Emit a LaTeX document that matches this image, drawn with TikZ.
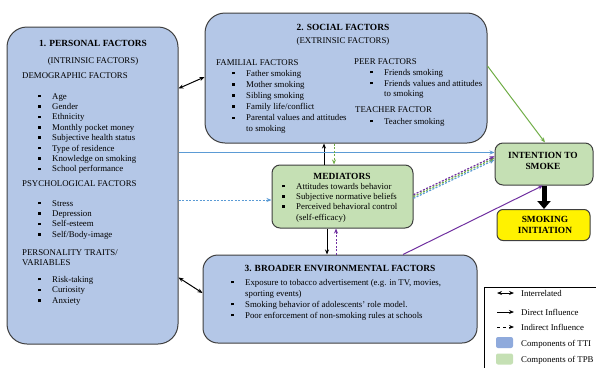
\documentclass[tikz,border=0pt]{standalone}
\usepackage{fontspec}
\setmainfont{Liberation Serif}
\usetikzlibrary{arrows.meta}

\definecolor{ttiblue}{HTML}{B4C7E7}
\definecolor{tpbgreen}{HTML}{C5E0B4}
\definecolor{swatchblue}{HTML}{8FAADC}
\definecolor{boxline}{HTML}{3F3F3F}
\definecolor{lineblue}{HTML}{5B9BD5}
\definecolor{linegreen}{HTML}{70AD47}
\definecolor{linepurple}{HTML}{7030A0}

% small square bullet used in all lists
\newcommand{\sqbullet}{\makebox[14pt][l]{\rule[1.6pt]{2.6pt}{2.6pt}}}

\begin{document}
\begin{tikzpicture}[x=1pt, y=-1pt,
    font=\fontsize{8.8}{10.5}\selectfont,
    >={Stealth[length=5pt,width=4pt]},
    factorbox/.style={draw=boxline, line width=1pt, fill=ttiblue, inner sep=0},
    tpbbox/.style={draw=boxline, line width=1pt, fill=tpbgreen, inner sep=0},
    txt/.style={anchor=base west, inner sep=0},
    ctxt/.style={anchor=base, inner sep=0},
    ttl/.style={anchor=base, inner sep=0, font=\fontsize{9.4}{11}\selectfont\bfseries},
    inter/.style={<->, black, line width=1pt},
    direct/.style={->, line width=1pt},
    indirect/.style={->, line width=1pt, dash pattern=on 2pt off 1.5pt}]

    \useasboundingbox (0,0) rectangle (596,367);

    % Boxes of the model
    \node[factorbox, rounded corners=20pt, minimum width=171pt, minimum height=317pt] (personal) at (92.5,185.5) {};
    \node[factorbox, rounded corners=20pt, minimum width=282pt, minimum height=130pt] (social) at (346,78) {};
    \node[factorbox, rounded corners=15pt, minimum width=274pt, minimum height=88pt] (broad) at (340,299) {};
    \node[tpbbox, rounded corners=8pt, minimum width=141pt, minimum height=63pt] (med) at (342.5,196.5) {};
    \node[tpbbox, rounded corners=8pt, minimum width=98pt, minimum height=42pt] (intent) at (544,164) {};
    \node[draw=boxline, line width=1pt, fill=yellow, rounded corners=6pt, inner sep=0,
          minimum width=93pt, minimum height=31pt] (smoke) at (543.5,225) {};

    % 1. Personal factors
    \node[ttl] (pertitle) at (93,46) {1. PERSONAL FACTORS};
    \node[ctxt] (persub) at (93,63) {(INTRINSIC FACTORS)};
    \node[txt] (demhead) at (22,78) {DEMOGRAPHIC FACTORS};
    \foreach \t [count=\i from 0] in {Age, Gender, Ethnicity, Monthly pocket money, Subjective health status,
        Type of residence, Knowledge on smoking, School performance}
        \node[txt] (dem\i) at (38, 99+10.4*\i) {\sqbullet\t};
    \node[txt] (psyhead) at (22,186) {PSYCHOLOGICAL FACTORS};
    \foreach \t [count=\i from 0] in {Stress, Depression, Self-esteem, Self/Body-image}
        \node[txt] (psy\i) at (38, 206+10.4*\i) {\sqbullet\t};
    \node[txt] (trhead) at (22,255) {PERSONALITY TRAITS/};
    \node[txt] (trhead2) at (22,265.5) {VARIABLES};
    \foreach \t [count=\i from 0] in {Risk-taking, Curiosity, Anxiety}
        \node[txt] (tr\i) at (38, 282+10.8*\i) {\sqbullet\t};

    % 2. Social factors
    \node[ttl] (soctitle) at (343,30) {2. SOCIAL FACTORS};
    \node[ctxt] (socsub) at (343,43) {(EXTRINSIC FACTORS)};
    \node[txt] (famhead) at (216,65) {FAMILIAL FACTORS};
    \foreach \t [count=\i from 0] in {Father smoking, Mother smoking, Sibling smoking, Family life/conflict,
        Parental values and attitudes}
        \node[txt] (fam\i) at (232, 76+11.2*\i) {\sqbullet\t};
    \node[txt] (fam5) at (246,131) {to smoking};
    \node[txt] (peerhead) at (354,64) {PEER FACTORS};
    \node[txt] (peer0) at (370,75) {\sqbullet Friends smoking};
    \node[txt] (peer1) at (370,86) {\sqbullet Friends values and attitudes};
    \node[txt] (peer2) at (384,96) {to smoking};
    \node[txt] (teahead) at (355,112) {TEACHER FACTOR};
    \node[txt] (tea0) at (370,124) {\sqbullet Teacher smoking};

    % Mediators
    \node[ttl] (medtitle) at (342,179) {MEDIATORS};
    \foreach \t [count=\i from 0] in {Attitudes towards behavior, Subjective normative beliefs,
        Perceived behavioral control}
        \node[txt] (med\i) at (282, 189+10.2*\i) {\sqbullet\t};
    \node[txt] (med3) at (296,220) {(self-efficacy)};

    % 3. Broader environmental factors
    \node[ttl] (brtitle) at (340,271) {3. BROADER ENVIRONMENTAL FACTORS};
    \node[txt] (br0) at (231,285) {\sqbullet Exposure to tobacco advertisement (e.g. in TV, movies,};
    \node[txt] (br1) at (245,296) {sporting events)};
    \node[txt] (br2) at (231,307) {\sqbullet Smoking behavior of adolescents’ role model.};
    \node[txt] (br3) at (231,318) {\sqbullet Poor enforcement of non-smoking rules at schools};

    % Outcome boxes
    \node[ttl] (inttxt) at (543,158) {INTENTION TO};
    \node[ttl] (inttxt2) at (543,169) {SMOKE};
    \node[ttl] (smktxt) at (545,222) {SMOKING};
    \node[ttl] (smktxt2) at (545,233) {INITIATION};

    % Interrelations
    \draw[inter] ([yshift=97pt]personal.east) -- ([yshift=1pt]social.west);
    \draw[inter] ([yshift=-92pt]personal.east) -- ([yshift=6pt]broad.west);
    \draw[direct, black] ([xshift=-18.5pt]med.north) -- ([xshift=-22pt]social.south);
    \draw[direct, black] ([xshift=-15.5pt]med.south) -- ([xshift=-13pt]broad.north);

    % Direct influence
    \draw[direct, lineblue] ([yshift=33pt]personal.east) -- ([yshift=11.5pt]intent.west);
    \draw[direct, linegreen] ([yshift=12pt]social.east) -- ([xshift=1pt]intent.north);
    \draw[direct, linepurple] ([xshift=63pt]broad.north) -- ([xshift=-1pt]intent.south);
    \draw[black, line width=5pt, -{Triangle[length=8pt,width=13pt]}] (intent.south) -- (intent.south |- smoke.north);

    % Indirect influence
    \draw[indirect, lineblue] ([yshift=-14.5pt]personal.east) -- ([yshift=-3.5pt]med.west);
    \draw[indirect, linegreen] ([xshift=-12pt]social.south) -- ([xshift=-8.5pt]med.north);
    \draw[indirect, linepurple] ([xshift=-4pt]broad.north) -- ([xshift=-6.5pt]med.south);
    \foreach \c/\o in {lineblue/-1.8, linegreen/0, linepurple/1.8}
        \draw[indirect, \c, line width=1.2pt] ([yshift={\o*1pt}]med.east) -- ([yshift={(6+\o)*1pt}]intent.west);

    % Legend
    \draw[black, line width=0.9pt] (597,287) -- (484,287) -- (484,368);
    \coordinate (lga) at (497,293);  \coordinate (lgb) at (514,293);
    \coordinate (lgc) at (497,312);  \coordinate (lgd) at (514,312);
    \coordinate (lge) at (497,327);  \coordinate (lgf) at (514,327);
    \draw[inter] (lga) -- (lgb);
    \draw[direct, black] (lgc) -- (lgd);
    \draw[->, black, line width=0.8pt, dashed] (lge) -- (lgf);
    \node[fill=swatchblue, rounded corners=2pt, inner sep=0, minimum width=17pt, minimum height=11pt] (swtti) at (504.5,342.5) {};
    \node[fill=tpbgreen, rounded corners=2pt, inner sep=0, minimum width=17pt, minimum height=11pt] (swtpb) at (504.5,359) {};
    \node[txt] (lgint) at (521,296) {Interrelated};
    \node[txt] (lgdir) at (521,315) {Direct Influence};
    \node[txt] (lgind) at (521,330) {Indirect Influence};
    \node[txt] (lgtti) at (521,346) {Components of TTI};
    \node[txt] (lgtpb) at (521,362) {Components of TPB};
\end{tikzpicture}
\end{document}
